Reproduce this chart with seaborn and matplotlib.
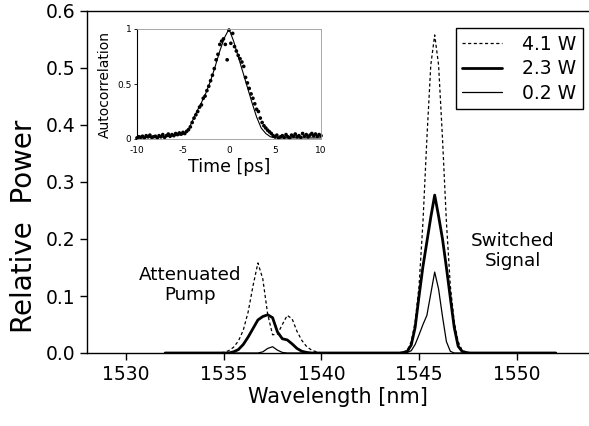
import seaborn as sns
import numpy as np
import matplotlib.pyplot as plt
import pandas as pd

# wavelength sampling (nm) for the two spectral bands
wl_pump = [1535.0, 1535.25, 1535.5, 1535.75, 1536.0, 1536.25, 1536.5, 1536.75, 1537.0,
           1537.25, 1537.5, 1537.75, 1538.0, 1538.25, 1538.5, 1538.75, 1539.0, 1539.25,
           1539.5, 1539.75, 1540.0]
wl_signal = [1544.0, 1544.2, 1544.4, 1544.6, 1544.8, 1545.0, 1545.2, 1545.4, 1545.6, 1545.8,
             1546.0, 1546.2, 1546.4, 1546.6, 1546.8, 1547.0, 1547.2, 1547.4, 1547.6]
wl_start = [1532, 1534]
wl_mid = [1541, 1543]
wl_end = [1549, 1552]

# relative power
pump_41 = [0.001, 0.004, 0.010, 0.021, 0.040, 0.072, 0.118, 0.158, 0.130, 0.068, 0.032,
           0.033, 0.050, 0.066, 0.060, 0.038, 0.022, 0.011, 0.005, 0.002, 0.0]
pump_23 = [0.0, 0.0, 0.002, 0.006, 0.015, 0.028, 0.043, 0.058, 0.064, 0.067, 0.062,
           0.037, 0.025, 0.023, 0.016, 0.008, 0.003, 0.001, 0.0, 0.0, 0.0]
pump_02 = [0.0, 0.0, 0.0, 0.0, 0.0, 0.0, 0.0, 0.0, 0.002, 0.008, 0.011,
           0.005, 0.001, 0.0, 0.0, 0.0, 0.0, 0.0, 0.0, 0.0, 0.0]

signal_41 = [0.0, 0.001, 0.005, 0.020, 0.055, 0.118, 0.230, 0.376, 0.505, 0.558,
             0.505, 0.376, 0.230, 0.118, 0.055, 0.020, 0.005, 0.001, 0.0]
signal_23 = [0.0, 0.001, 0.003, 0.014, 0.045, 0.100, 0.152, 0.195, 0.238, 0.277,
             0.240, 0.200, 0.150, 0.097, 0.045, 0.012, 0.003, 0.001, 0.0]
signal_02 = [0.0, 0.0, 0.001, 0.004, 0.015, 0.032, 0.050, 0.066, 0.104, 0.142,
             0.112, 0.064, 0.020, 0.003, 0.0, 0.0, 0.0, 0.0, 0.0]

baseline = [0.0, 0.0]

series_labels = ["4.1 W", "2.3 W", "0.2 W"]

# inset: autocorrelation trace
ac_time = [-10.0, -9.8, -9.6, -9.4, -9.2, -9.0, -8.8, -8.6, -8.4, -8.2,
           -8.0, -7.8, -7.6, -7.4, -7.2, -7.0, -6.8, -6.6, -6.4, -6.2,
           -6.0, -5.8, -5.6, -5.4, -5.2, -5.0, -4.8, -4.6, -4.4, -4.2,
           -4.0, -3.8, -3.6, -3.4, -3.2, -3.0, -2.8, -2.6, -2.4, -2.2,
           -2.0, -1.8, -1.6, -1.4, -1.2, -1.0, -0.8, -0.6, -0.4, -0.2,
           0.0, 0.2, 0.4, 0.6, 0.8, 1.0, 1.2, 1.4, 1.6, 1.8,
           2.0, 2.2, 2.4, 2.6, 2.8, 3.0, 3.2, 3.4, 3.6, 3.8,
           4.0, 4.2, 4.4, 4.6, 4.8, 5.0, 5.2, 5.4, 5.6, 5.8,
           6.0, 6.2, 6.4, 6.6, 6.8, 7.0, 7.2, 7.4, 7.6, 7.8,
           8.0, 8.2, 8.4, 8.6, 8.8, 9.0, 9.2, 9.4, 9.6, 9.8, 10.0]
ac_meas = [0.01, 0.02, 0.015, 0.025, 0.01, 0.03, 0.02, 0.035, 0.015, 0.02,
           0.025, 0.01, 0.03, 0.02, 0.04, 0.015, 0.03, 0.045, 0.025, 0.04,
           0.03, 0.05, 0.04, 0.055, 0.045, 0.06, 0.05, 0.07, 0.085, 0.11,
           0.15, 0.19, 0.22, 0.25, 0.29, 0.31, 0.37, 0.39, 0.44, 0.48,
           0.53, 0.58, 0.64, 0.72, 0.77, 0.86, 0.89, 0.91, 0.86, 0.72,
           0.99, 0.87, 0.96, 0.84, 0.80, 0.76, 0.73, 0.70, 0.66, 0.56,
           0.51, 0.46, 0.41, 0.37, 0.32, 0.27, 0.25, 0.19, 0.15, 0.12,
           0.10, 0.08, 0.065, 0.05, 0.03, 0.02, 0.035, 0.01, 0.02, 0.03,
           0.015, 0.04, 0.02, 0.01, 0.035, 0.025, 0.045, 0.02, 0.03, 0.015,
           0.05, 0.025, 0.04, 0.02, 0.035, 0.05, 0.03, 0.045, 0.025, 0.04, 0.03]
fit_time = [-10, -7, -5, -4.5, -4, -3.5, -3, -2.5, -2, -1.5, -1, -0.5, 0,
            0.5, 1, 1.5, 2, 2.5, 3, 3.5, 4, 4.5, 5, 7, 10]
fit_val = [0.01, 0.02, 0.04, 0.07, 0.16, 0.25, 0.33, 0.42, 0.53, 0.66, 0.80, 0.92, 1.0,
           0.89, 0.75, 0.61, 0.47, 0.33, 0.20, 0.10, 0.05, 0.02, 0.01, 0.01, 0.01]

wl_all = wl_start + wl_pump + wl_mid + wl_signal + wl_end
spectra = {
    "4.1 W": baseline + pump_41 + baseline + signal_41 + baseline,
    "2.3 W": baseline + pump_23 + baseline + signal_23 + baseline,
    "0.2 W": baseline + pump_02 + baseline + signal_02 + baseline,
}
line_styles = {
    "4.1 W": dict(lw=0.9, linestyle=(0, (2.5, 2))),
    "2.3 W": dict(lw=2.0, linestyle="-"),
    "0.2 W": dict(lw=0.9, linestyle="-"),
}

sns.set_style("ticks")
plt.rcParams["font.family"] = ["DejaVu Sans"]
plt.rcParams["text.color"] = "black"
plt.rcParams["axes.labelcolor"] = "black"
plt.rcParams["xtick.color"] = "black"
plt.rcParams["ytick.color"] = "black"

fig = plt.figure(figsize=(5.89, 4.26), dpi=100)
ax = fig.add_axes([87 / 589, 73 / 426, 502 / 589, 342 / 426])

for name in series_labels:
    df = pd.DataFrame({"wavelength": wl_all, "power": spectra[name]})
    sns.lineplot(data=df, x="wavelength", y="power", ax=ax, color="black",
                 label=name, **line_styles[name])

ax.set_xlim(1528, 1553.7)
ax.set_ylim(0, 0.6)
ax.set_xticks([1530, 1535, 1540, 1545, 1550])
ax.set_yticks([0.0, 0.1, 0.2, 0.3, 0.4, 0.5, 0.6])
ax.set_yticklabels(["0.0", "0.1", "0.2", "0.3", "0.4", "0.5", "0.6"])
ax.tick_params(axis="both", direction="out", length=5, width=1, labelsize=13.5)
ax.set_xlabel("Wavelength [nm]", fontsize=15, labelpad=2)
ax.set_ylabel("Relative  Power", fontsize=20)
ax.yaxis.set_label_coords(-0.098, 0.37)
ax.spines["right"].set_visible(False)
for s in ["left", "bottom", "top"]:
    ax.spines[s].set_color("black")
    ax.spines[s].set_linewidth(1.0)

ax.text(1533.3, 0.119, "Attenuated\nPump", ha="center", va="center", fontsize=13.2,
        linespacing=1.15)
ax.text(1549.8, 0.179, "Switched\nSignal", ha="center", va="center", fontsize=13.2,
        linespacing=1.15)

leg = ax.legend(loc="upper right", bbox_to_anchor=(0.988, 0.950), borderaxespad=0,
                fontsize=13.5, handlelength=2.1, handletextpad=1.1, labelspacing=0.3,
                fancybox=False, framealpha=1, borderpad=0.35)
leg.get_frame().set_edgecolor("black")
leg.get_frame().set_linewidth(1.0)

# inset
axi = fig.add_axes([137 / 589, 287 / 426, 184 / 589, 110 / 426])
sns.scatterplot(x=ac_time, y=ac_meas, ax=axi, color="black", s=7, edgecolor="none",
                clip_on=False)
sns.lineplot(x=fit_time, y=fit_val, ax=axi, color="black", lw=0.8)
axi.set_xlim(-10, 10)
axi.set_ylim(0, 1)
axi.set_xticks([-10, -5, 0, 5, 10])
axi.set_xticklabels(["-10", "-5", "0", "5", "10"])
axi.set_yticks([0, 0.5, 1])
axi.set_yticklabels(["0", "0.5", "1"])
axi.tick_params(axis="y", length=2, width=0.6, labelsize=6.5, pad=2)
axi.tick_params(axis="x", length=0, labelsize=6.5, pad=5)
axi.set_xlabel("Time [ps]", fontsize=12.5, labelpad=2)
axi.set_ylabel("Autocorrelation", fontsize=10, labelpad=4)
axi.spines["left"].set_color("black")
axi.spines["left"].set_linewidth(0.8)
for s in ["top", "right", "bottom"]:
    axi.spines[s].set_color("#999999")
    axi.spines[s].set_linewidth(0.6)
axi.set_facecolor("white")

fig.savefig("out.png", dpi=100)
